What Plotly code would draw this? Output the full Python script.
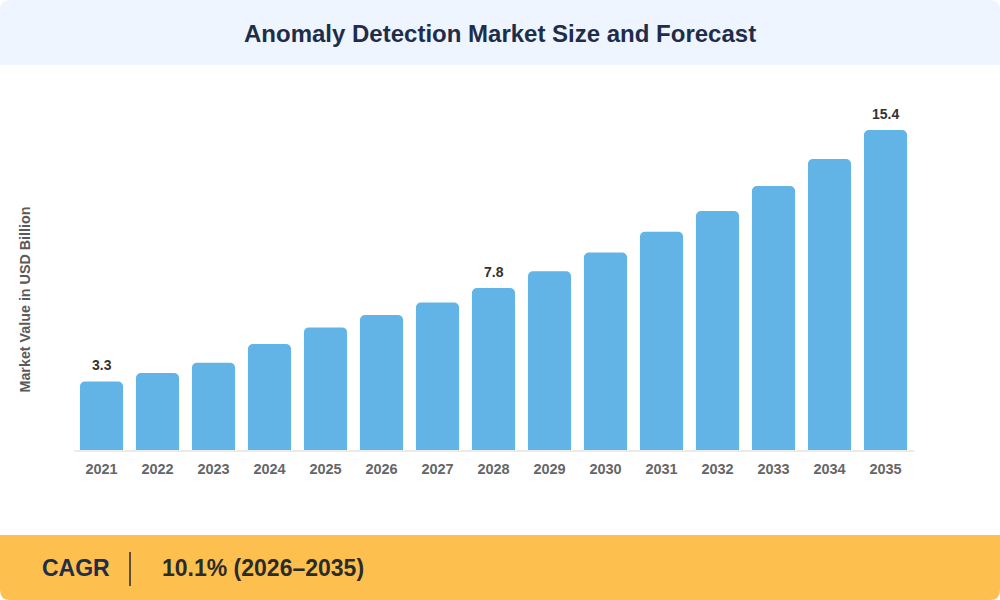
import plotly.graph_objects as go

years = ["2021", "2022", "2023", "2024", "2025", "2026", "2027", "2028",
         "2029", "2030", "2031", "2032", "2033", "2034", "2035"]
values = [3.3, 3.7, 4.2, 5.1, 5.9, 6.5, 7.1, 7.8, 8.6, 9.5, 10.5, 11.5, 12.7, 14.0, 15.4]
labeled_years = ["2021", "2028", "2035"]
title_text = "Anomaly Detection Market Size and Forecast"
y_title = "Market Value in USD Billion"
cagr_label = "CAGR"
cagr_value = "10.1% (2026\u20132035)"

FONT = "Liberation Sans, Arial, Helvetica, sans-serif"
BAR = "#62B3E6"

fig = go.Figure()
fig.add_trace(go.Bar(
    x=years, y=values,
    marker=dict(color=BAR, line=dict(width=0), cornerradius=5),
    hoverinfo="x+y",
))

annotations = []
for i, (yr, v) in enumerate(zip(years, values)):
    if yr in labeled_years:
        annotations.append(dict(
            x=i, y=v, xref="x", yref="y", text=f"<b>{v:.1f}</b>",
            showarrow=False, yanchor="bottom", yshift=6,
            font=dict(family=FONT, size=14, color="#333333"),
        ))

annotations += [
    dict(x=0.5, y=1 - 33 / 600, xref="paper", yref="paper", text=f"<b>{title_text}</b>",
         showarrow=False, xanchor="center", yanchor="middle",
         font=dict(family=FONT, size=24, color="#1E2D4A")),
    dict(x=24.5 / 1000, y=1 - 300 / 600, xref="paper", yref="paper", text=f"<b>{y_title}</b>",
         showarrow=False, textangle=-90, xanchor="center", yanchor="middle",
         font=dict(family=FONT, size=14.3, color="#5A5A5A")),
    dict(x=40 / 1000, y=1 - 568 / 600, xref="paper", yref="paper", text=f"<b>{cagr_label}</b>",
         showarrow=False, xanchor="left", yanchor="middle",
         font=dict(family=FONT, size=23, color="#1E2D4A")),
    dict(x=160 / 1000, y=1 - 568 / 600, xref="paper", yref="paper", text=f"<b>{cagr_value}</b>",
         showarrow=False, xanchor="left", yanchor="middle",
         font=dict(family=FONT, size=23, color="#2B2B2B")),
]

def rpath(x0, y0, x1, y1, rtl, rtr, rbr, rbl):
    # pixel coords (top-left origin) -> paper coords
    def P(px, py):
        return f"{px / 1000:.5f},{1 - py / 600:.5f}"
    return (f"M {P(x0 + rtl, y0)} L {P(x1 - rtr, y0)} Q {P(x1, y0)} {P(x1, y0 + rtr)} "
            f"L {P(x1, y1 - rbr)} Q {P(x1, y1)} {P(x1 - rbr, y1)} "
            f"L {P(x0 + rbl, y1)} Q {P(x0, y1)} {P(x0, y1 - rbl)} "
            f"L {P(x0, y0 + rtl)} Q {P(x0, y0)} {P(x0 + rtl, y0)} Z")

shapes = [
    dict(type="path", xref="paper", yref="paper", layer="below",
         path=rpath(0, 0, 1000, 65, 10, 10, 0, 0),
         fillcolor="#EFF5FE", line=dict(width=0)),
    dict(type="path", xref="paper", yref="paper", layer="below",
         path=rpath(0, 535, 1000, 600, 0, 0, 10, 10),
         fillcolor="#FDC04E", line=dict(width=0)),
    dict(type="line", xref="paper", yref="paper",
         x0=130 / 1000, x1=130 / 1000, y0=1 - 552 / 600, y1=1 - 586 / 600,
         line=dict(color="#2B2B2B", width=1.5)),
]

fig.update_layout(
    width=1000, height=600,
    margin=dict(l=0, r=0, t=0, b=0),
    paper_bgcolor="white", plot_bgcolor="white",
    showlegend=False, bargap=0.23,
    annotations=annotations, shapes=shapes,
    xaxis=dict(
        domain=[73.5 / 1000, 913.5 / 1000],
        type="category", range=[-0.5, len(years) - 0.5], autorange=False,
        showgrid=False, zeroline=False,
        showline=True, linecolor="#EBEBEB", linewidth=2,
        ticks="", ticklabelstandoff=5, automargin=False,
        tickfont=dict(family=FONT, size=14.5, color="#666666"),
        tickprefix="<b>", ticksuffix="</b>",
    ),
    yaxis=dict(
        domain=[150 / 600, 510 / 600],
        range=[0, 360 / 20.78], autorange=False, showgrid=False, zeroline=False,
        showline=False, showticklabels=False, automargin=False,
    ),
)

fig.write_html("out.html", config={"displayModeBar": False},
               post_script="document.body.style.margin='0';")
